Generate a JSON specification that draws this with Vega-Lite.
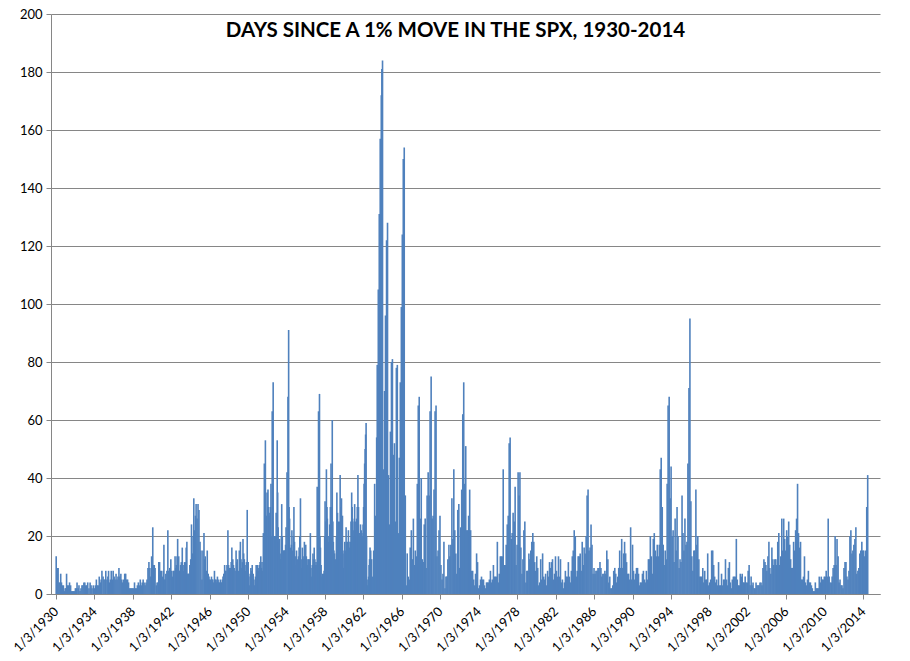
{
  "$schema": "https://vega.github.io/schema/vega-lite/v6.json",
  "width": 829,
  "height": 580,
  "autosize": {"type": "none"},
  "padding": {"left": 51, "top": 14, "right": 30, "bottom": 67},
  "background": "white",
  "title": {
    "text": "DAYS SINCE A 1% MOVE IN THE SPX, 1930-2014",
    "font": "Lato",
    "fontSize": 20.5,
    "fontWeight": "bold",
    "color": "#000000",
    "anchor": "middle",
    "frame": "group",
    "baseline": "alphabetic",
    "offset": -20,
    "dy": 29,
    "dx": -10
  },
  "data": {
    "values": [
      {"t":1930.02,"v":13},{"t":1930.12,"v":9},{"t":1930.22,"v":9},{"t":1930.32,"v":4},{"t":1930.42,"v":4},{"t":1930.49,"v":7},{"t":1930.57,"v":4},{"t":1930.67,"v":3},{"t":1930.77,"v":3},{"t":1930.87,"v":1},{"t":1930.95,"v":2},
      {"t":1931.03,"v":2},{"t":1931.1,"v":7},{"t":1931.2,"v":3},{"t":1931.3,"v":3},{"t":1931.41,"v":4},{"t":1931.52,"v":3},{"t":1931.62,"v":1},{"t":1931.72,"v":1},{"t":1931.82,"v":1},{"t":1931.92,"v":1},
      {"t":1932.02,"v":2},{"t":1932.12,"v":2},{"t":1932.19,"v":4},{"t":1932.3,"v":2},{"t":1932.39,"v":3},{"t":1932.5,"v":1},{"t":1932.6,"v":2},{"t":1932.7,"v":3},{"t":1932.8,"v":3},{"t":1932.9,"v":4},
      {"t":1933.0,"v":4},{"t":1933.1,"v":3},{"t":1933.2,"v":3},{"t":1933.3,"v":4},{"t":1933.43,"v":2},{"t":1933.55,"v":4},{"t":1933.65,"v":3},{"t":1933.75,"v":2},{"t":1933.88,"v":3},
      {"t":1934.0,"v":2},{"t":1934.1,"v":3},{"t":1934.2,"v":5},{"t":1934.3,"v":3},{"t":1934.4,"v":3},{"t":1934.5,"v":6},{"t":1934.6,"v":4},{"t":1934.7,"v":5},{"t":1934.78,"v":8},{"t":1934.9,"v":6},
      {"t":1935.0,"v":5},{"t":1935.1,"v":5},{"t":1935.18,"v":8},{"t":1935.3,"v":5},{"t":1935.4,"v":6},{"t":1935.47,"v":8},{"t":1935.57,"v":4},{"t":1935.66,"v":5},{"t":1935.75,"v":8},{"t":1935.85,"v":5},{"t":1935.95,"v":8},
      {"t":1936.05,"v":6},{"t":1936.15,"v":5},{"t":1936.25,"v":7},{"t":1936.35,"v":5},{"t":1936.45,"v":6},{"t":1936.55,"v":9},{"t":1936.65,"v":6},{"t":1936.75,"v":7},{"t":1936.85,"v":5},{"t":1936.95,"v":4},
      {"t":1937.05,"v":5},{"t":1937.15,"v":7},{"t":1937.25,"v":7},{"t":1937.35,"v":5},{"t":1937.45,"v":5},{"t":1937.55,"v":4},{"t":1937.65,"v":2},{"t":1937.75,"v":2},{"t":1937.85,"v":2},{"t":1937.95,"v":2},
      {"t":1938.05,"v":2},{"t":1938.17,"v":4},{"t":1938.27,"v":2},{"t":1938.37,"v":2},{"t":1938.47,"v":3},{"t":1938.57,"v":4},{"t":1938.67,"v":3},{"t":1938.77,"v":5},{"t":1938.87,"v":3},{"t":1938.97,"v":4},
      {"t":1939.07,"v":5},{"t":1939.17,"v":4},{"t":1939.27,"v":3},{"t":1939.37,"v":4},{"t":1939.47,"v":5},{"t":1939.57,"v":9},{"t":1939.67,"v":11},{"t":1939.77,"v":9},{"t":1939.87,"v":6},{"t":1939.95,"v":13},
      {"t":1940.07,"v":23},{"t":1940.15,"v":10},{"t":1940.23,"v":10},{"t":1940.31,"v":9},{"t":1940.44,"v":3},{"t":1940.52,"v":4},{"t":1940.61,"v":4},{"t":1940.7,"v":11},{"t":1940.78,"v":11},{"t":1940.86,"v":8},{"t":1940.95,"v":8},
      {"t":1941.06,"v":6},{"t":1941.16,"v":8},{"t":1941.23,"v":17},{"t":1941.3,"v":5},{"t":1941.37,"v":5},{"t":1941.43,"v":7},{"t":1941.54,"v":8},{"t":1941.64,"v":22},{"t":1941.74,"v":8},{"t":1941.84,"v":9},{"t":1941.95,"v":12},
      {"t":1942.05,"v":8},{"t":1942.15,"v":6},{"t":1942.22,"v":8},{"t":1942.29,"v":8},{"t":1942.39,"v":13},{"t":1942.46,"v":9},{"t":1942.53,"v":10},{"t":1942.6,"v":13},{"t":1942.66,"v":19},{"t":1942.77,"v":13},{"t":1942.84,"v":8},{"t":1942.9,"v":8},{"t":1942.97,"v":10},
      {"t":1943.04,"v":11},{"t":1943.14,"v":16},{"t":1943.24,"v":8},{"t":1943.31,"v":10},{"t":1943.38,"v":11},{"t":1943.48,"v":11},{"t":1943.55,"v":16},{"t":1943.62,"v":18},{"t":1943.7,"v":7},{"t":1943.76,"v":7},{"t":1943.85,"v":7},{"t":1943.93,"v":10},
      {"t":1944.02,"v":12},{"t":1944.1,"v":24},{"t":1944.2,"v":14},{"t":1944.27,"v":20},{"t":1944.34,"v":33},{"t":1944.44,"v":22},{"t":1944.51,"v":27},{"t":1944.58,"v":31},{"t":1944.68,"v":26},{"t":1944.78,"v":31},{"t":1944.88,"v":29},{"t":1944.99,"v":18},
      {"t":1945.09,"v":15},{"t":1945.19,"v":5},{"t":1945.29,"v":15},{"t":1945.4,"v":21},{"t":1945.47,"v":12},{"t":1945.53,"v":13},{"t":1945.63,"v":8},{"t":1945.74,"v":15},{"t":1945.84,"v":7},{"t":1945.92,"v":6},{"t":1945.98,"v":5},
      {"t":1946.05,"v":5},{"t":1946.11,"v":4},{"t":1946.18,"v":6},{"t":1946.25,"v":5},{"t":1946.32,"v":5},{"t":1946.39,"v":4},{"t":1946.49,"v":8},{"t":1946.57,"v":5},{"t":1946.66,"v":5},{"t":1946.73,"v":4},{"t":1946.8,"v":6},{"t":1946.87,"v":5},{"t":1946.93,"v":4},
      {"t":1947.0,"v":4},{"t":1947.1,"v":5},{"t":1947.17,"v":4},{"t":1947.24,"v":4},{"t":1947.31,"v":5},{"t":1947.38,"v":6},{"t":1947.46,"v":7},{"t":1947.55,"v":10},{"t":1947.62,"v":8},{"t":1947.68,"v":8},{"t":1947.79,"v":10},{"t":1947.89,"v":22},{"t":1947.96,"v":10},
      {"t":1948.03,"v":9},{"t":1948.1,"v":8},{"t":1948.16,"v":9},{"t":1948.23,"v":11},{"t":1948.3,"v":16},{"t":1948.4,"v":12},{"t":1948.47,"v":10},{"t":1948.54,"v":9},{"t":1948.64,"v":8},{"t":1948.74,"v":15},{"t":1948.81,"v":11},{"t":1948.88,"v":12},{"t":1948.98,"v":8},
      {"t":1949.08,"v":15},{"t":1949.19,"v":18},{"t":1949.25,"v":12},{"t":1949.32,"v":9},{"t":1949.39,"v":11},{"t":1949.46,"v":19},{"t":1949.53,"v":14},{"t":1949.6,"v":12},{"t":1949.67,"v":10},{"t":1949.73,"v":8},{"t":1949.82,"v":11},{"t":1949.9,"v":29},
      {"t":1950.0,"v":11},{"t":1950.07,"v":6},{"t":1950.14,"v":3},{"t":1950.21,"v":7},{"t":1950.28,"v":9},{"t":1950.35,"v":8},{"t":1950.42,"v":10},{"t":1950.52,"v":7},{"t":1950.6,"v":5},{"t":1950.69,"v":3},{"t":1950.76,"v":6},{"t":1950.83,"v":10},{"t":1950.9,"v":8},{"t":1950.97,"v":10},
      {"t":1951.03,"v":9},{"t":1951.1,"v":8},{"t":1951.17,"v":10},{"t":1951.24,"v":11},{"t":1951.31,"v":13},{"t":1951.38,"v":9},{"t":1951.44,"v":11},{"t":1951.51,"v":8},{"t":1951.58,"v":21},{"t":1951.68,"v":45},{"t":1951.79,"v":53},{"t":1951.89,"v":27},{"t":1951.96,"v":35},
      {"t":1952.06,"v":36},{"t":1952.11,"v":30},{"t":1952.16,"v":27},{"t":1952.26,"v":28},{"t":1952.31,"v":30},{"t":1952.37,"v":38},{"t":1952.44,"v":20},{"t":1952.5,"v":63},{"t":1952.6,"v":73},{"t":1952.71,"v":20},{"t":1952.81,"v":9},{"t":1952.86,"v":20},{"t":1952.91,"v":28},
      {"t":1953.02,"v":53},{"t":1953.07,"v":35},{"t":1953.12,"v":23},{"t":1953.18,"v":18},{"t":1953.25,"v":19},{"t":1953.32,"v":14},{"t":1953.39,"v":12},{"t":1953.45,"v":20},{"t":1953.49,"v":31},{"t":1953.55,"v":20},{"t":1953.6,"v":13},{"t":1953.66,"v":15},{"t":1953.73,"v":15},{"t":1953.78,"v":15},{"t":1953.84,"v":15},{"t":1953.89,"v":17},{"t":1953.94,"v":23},
      {"t":1954.04,"v":42},{"t":1954.14,"v":68},{"t":1954.21,"v":91},{"t":1954.26,"v":30},{"t":1954.31,"v":26},{"t":1954.38,"v":16},{"t":1954.45,"v":14},{"t":1954.5,"v":17},{"t":1954.55,"v":22},{"t":1954.61,"v":15},{"t":1954.66,"v":12},{"t":1954.71,"v":20},{"t":1954.76,"v":30},{"t":1954.82,"v":18},{"t":1954.89,"v":13},{"t":1954.96,"v":10},
      {"t":1955.03,"v":15},{"t":1955.1,"v":12},{"t":1955.17,"v":9},{"t":1955.24,"v":13},{"t":1955.3,"v":16},{"t":1955.37,"v":20},{"t":1955.44,"v":33},{"t":1955.51,"v":12},{"t":1955.58,"v":9},{"t":1955.64,"v":16},{"t":1955.71,"v":13},{"t":1955.78,"v":12},{"t":1955.85,"v":18},{"t":1955.92,"v":14},{"t":1955.99,"v":17},
      {"t":1956.05,"v":13},{"t":1956.12,"v":12},{"t":1956.19,"v":10},{"t":1956.26,"v":12},{"t":1956.31,"v":11},{"t":1956.36,"v":12},{"t":1956.42,"v":11},{"t":1956.47,"v":21},{"t":1956.53,"v":9},{"t":1956.6,"v":6},{"t":1956.67,"v":10},{"t":1956.74,"v":14},{"t":1956.8,"v":12},{"t":1956.87,"v":16},{"t":1956.94,"v":12},
      {"t":1957.01,"v":10},{"t":1957.06,"v":11},{"t":1957.11,"v":10},{"t":1957.18,"v":37},{"t":1957.25,"v":20},{"t":1957.32,"v":63},{"t":1957.42,"v":69},{"t":1957.47,"v":20},{"t":1957.52,"v":16},{"t":1957.59,"v":10},{"t":1957.66,"v":6},{"t":1957.73,"v":7},{"t":1957.8,"v":6},{"t":1957.85,"v":7},{"t":1957.9,"v":8},{"t":1957.96,"v":20},
      {"t":1958.0,"v":32},{"t":1958.07,"v":25},{"t":1958.14,"v":43},{"t":1958.2,"v":30},{"t":1958.24,"v":26},{"t":1958.29,"v":20},{"t":1958.34,"v":18},{"t":1958.41,"v":20},{"t":1958.48,"v":24},{"t":1958.55,"v":30},{"t":1958.62,"v":45},{"t":1958.68,"v":30},{"t":1958.75,"v":60},{"t":1958.81,"v":25},{"t":1958.86,"v":18},{"t":1958.92,"v":15},{"t":1958.99,"v":14},
      {"t":1959.06,"v":12},{"t":1959.13,"v":10},{"t":1959.18,"v":20},{"t":1959.23,"v":35},{"t":1959.3,"v":28},{"t":1959.37,"v":25},{"t":1959.42,"v":20},{"t":1959.47,"v":18},{"t":1959.52,"v":25},{"t":1959.57,"v":41},{"t":1959.64,"v":30},{"t":1959.71,"v":33},{"t":1959.76,"v":25},{"t":1959.81,"v":27},{"t":1959.86,"v":15},{"t":1959.91,"v":9},{"t":1959.98,"v":14},
      {"t":1960.05,"v":18},{"t":1960.12,"v":15},{"t":1960.19,"v":23},{"t":1960.24,"v":18},{"t":1960.29,"v":14},{"t":1960.36,"v":18},{"t":1960.43,"v":22},{"t":1960.48,"v":18},{"t":1960.53,"v":15},{"t":1960.58,"v":16},{"t":1960.63,"v":18},{"t":1960.7,"v":25},{"t":1960.77,"v":35},{"t":1960.82,"v":30},{"t":1960.87,"v":26},{"t":1960.92,"v":22},{"t":1960.97,"v":20},
      {"t":1961.03,"v":25},{"t":1961.08,"v":31},{"t":1961.13,"v":25},{"t":1961.18,"v":22},{"t":1961.23,"v":20},{"t":1961.28,"v":26},{"t":1961.35,"v":30},{"t":1961.42,"v":41},{"t":1961.48,"v":30},{"t":1961.55,"v":21},{"t":1961.62,"v":20},{"t":1961.69,"v":24},{"t":1961.76,"v":22},{"t":1961.83,"v":21},{"t":1961.9,"v":20},{"t":1961.96,"v":24},
      {"t":1962.01,"v":30},{"t":1962.06,"v":38},{"t":1962.12,"v":45},{"t":1962.17,"v":50},{"t":1962.22,"v":55},{"t":1962.27,"v":59},{"t":1962.32,"v":20},{"t":1962.37,"v":5},{"t":1962.43,"v":3},{"t":1962.48,"v":2},{"t":1962.53,"v":6},{"t":1962.58,"v":10},{"t":1962.63,"v":12},{"t":1962.68,"v":16},
      {"t":1962.75,"v":15},{"t":1962.85,"v":12},{"t":1962.95,"v":6},{"t":1963.06,"v":15},{"t":1963.16,"v":38},{"t":1963.26,"v":27},{"t":1963.37,"v":54},{"t":1963.43,"v":79},{"t":1963.54,"v":105},{"t":1963.64,"v":131},{"t":1963.74,"v":157},{"t":1963.85,"v":172},{"t":1963.91,"v":181},{"t":1963.98,"v":184},
      {"t":1964.09,"v":43},{"t":1964.19,"v":70},{"t":1964.29,"v":96},{"t":1964.4,"v":122},{"t":1964.5,"v":128},{"t":1964.6,"v":41},{"t":1964.7,"v":24},{"t":1964.8,"v":56},{"t":1964.91,"v":80},
      {"t":1965.01,"v":81},{"t":1965.11,"v":48},{"t":1965.22,"v":52},{"t":1965.32,"v":25},{"t":1965.42,"v":78},{"t":1965.52,"v":79},{"t":1965.63,"v":21},{"t":1965.73,"v":47},{"t":1965.83,"v":73},{"t":1965.94,"v":99},
      {"t":1966.04,"v":124},{"t":1966.14,"v":150},{"t":1966.24,"v":154},{"t":1966.35,"v":34},{"t":1966.45,"v":3},{"t":1966.55,"v":14},{"t":1966.66,"v":6},{"t":1966.76,"v":5},{"t":1966.86,"v":16},
      {"t":1966.98,"v":22},{"t":1967.08,"v":12},{"t":1967.19,"v":26},{"t":1967.29,"v":10},{"t":1967.39,"v":15},{"t":1967.49,"v":13},{"t":1967.6,"v":38},{"t":1967.7,"v":65},{"t":1967.8,"v":68},{"t":1967.91,"v":26},
      {"t":1968.01,"v":40},{"t":1968.11,"v":12},{"t":1968.21,"v":11},{"t":1968.32,"v":24},{"t":1968.42,"v":26},{"t":1968.52,"v":9},{"t":1968.62,"v":34},{"t":1968.73,"v":42},{"t":1968.83,"v":34},{"t":1968.93,"v":63},
      {"t":1969.04,"v":75},{"t":1969.14,"v":26},{"t":1969.24,"v":27},{"t":1969.34,"v":36},{"t":1969.45,"v":63},{"t":1969.55,"v":65},{"t":1969.65,"v":13},{"t":1969.76,"v":15},{"t":1969.86,"v":22},{"t":1969.96,"v":27},
      {"t":1970.06,"v":10},{"t":1970.17,"v":5},{"t":1970.27,"v":7},{"t":1970.37,"v":18},{"t":1970.48,"v":2},{"t":1970.58,"v":6},{"t":1970.68,"v":6},{"t":1970.78,"v":12},{"t":1970.89,"v":17},{"t":1970.99,"v":13},
      {"t":1971.09,"v":17},{"t":1971.2,"v":33},{"t":1971.3,"v":19},{"t":1971.4,"v":43},{"t":1971.5,"v":22},{"t":1971.61,"v":14},{"t":1971.71,"v":7},{"t":1971.81,"v":29},{"t":1971.92,"v":31},
      {"t":1972.02,"v":9},{"t":1972.12,"v":23},{"t":1972.22,"v":36},{"t":1972.33,"v":62},{"t":1972.43,"v":73},{"t":1972.53,"v":38},{"t":1972.64,"v":51},{"t":1972.74,"v":22},{"t":1972.84,"v":22},{"t":1972.94,"v":27},
      {"t":1973.05,"v":36},{"t":1973.15,"v":22},{"t":1973.25,"v":8},{"t":1973.36,"v":8},{"t":1973.46,"v":5},{"t":1973.56,"v":3},{"t":1973.66,"v":7},{"t":1973.77,"v":14},{"t":1973.87,"v":11},{"t":1973.97,"v":2},
      {"t":1974.08,"v":3},{"t":1974.18,"v":5},{"t":1974.28,"v":6},{"t":1974.38,"v":5},{"t":1974.49,"v":5},{"t":1974.59,"v":3},{"t":1974.69,"v":2},{"t":1974.8,"v":4},{"t":1974.9,"v":4},
      {"t":1975.0,"v":4},{"t":1975.1,"v":5},{"t":1975.21,"v":8},{"t":1975.31,"v":4},{"t":1975.41,"v":5},{"t":1975.52,"v":10},{"t":1975.62,"v":6},{"t":1975.72,"v":6},{"t":1975.82,"v":6},{"t":1975.93,"v":18},
      {"t":1976.03,"v":4},{"t":1976.13,"v":7},{"t":1976.24,"v":13},{"t":1976.34,"v":13},{"t":1976.44,"v":13},{"t":1976.54,"v":43},{"t":1976.65,"v":10},{"t":1976.75,"v":10},{"t":1976.85,"v":17},{"t":1976.96,"v":24},
      {"t":1977.06,"v":27},{"t":1977.16,"v":52},{"t":1977.26,"v":54},{"t":1977.37,"v":19},{"t":1977.47,"v":21},{"t":1977.57,"v":28},{"t":1977.68,"v":25},{"t":1977.78,"v":37},{"t":1977.88,"v":10},{"t":1977.98,"v":17},
      {"t":1978.09,"v":42},{"t":1978.19,"v":34},{"t":1978.28,"v":42},{"t":1978.38,"v":16},{"t":1978.49,"v":7},{"t":1978.59,"v":12},{"t":1978.69,"v":22},{"t":1978.79,"v":25},{"t":1978.9,"v":4},
      {"t":1979.0,"v":8},{"t":1979.1,"v":8},{"t":1979.21,"v":14},{"t":1979.31,"v":12},{"t":1979.41,"v":15},{"t":1979.51,"v":18},{"t":1979.62,"v":21},{"t":1979.72,"v":18},{"t":1979.82,"v":11},{"t":1979.92,"v":8},
      {"t":1980.03,"v":13},{"t":1980.13,"v":9},{"t":1980.23,"v":3},{"t":1980.34,"v":4},{"t":1980.44,"v":12},{"t":1980.54,"v":5},{"t":1980.64,"v":14},{"t":1980.75,"v":6},{"t":1980.85,"v":5},{"t":1980.95,"v":7},
      {"t":1981.06,"v":3},{"t":1981.16,"v":8},{"t":1981.26,"v":6},{"t":1981.36,"v":11},{"t":1981.47,"v":9},{"t":1981.57,"v":11},{"t":1981.67,"v":12},{"t":1981.78,"v":5},{"t":1981.88,"v":7},{"t":1981.98,"v":13},
      {"t":1982.08,"v":8},{"t":1982.19,"v":6},{"t":1982.29,"v":13},{"t":1982.39,"v":6},{"t":1982.5,"v":12},{"t":1982.6,"v":4},{"t":1982.7,"v":5},{"t":1982.8,"v":2},{"t":1982.91,"v":4},
      {"t":1983.01,"v":8},{"t":1983.11,"v":6},{"t":1983.21,"v":6},{"t":1983.32,"v":11},{"t":1983.42,"v":6},{"t":1983.52,"v":4},{"t":1983.63,"v":8},{"t":1983.73,"v":13},{"t":1983.83,"v":15},{"t":1983.93,"v":22},
      {"t":1984.04,"v":20},{"t":1984.14,"v":6},{"t":1984.24,"v":8},{"t":1984.34,"v":13},{"t":1984.45,"v":13},{"t":1984.55,"v":14},{"t":1984.65,"v":8},{"t":1984.76,"v":18},{"t":1984.86,"v":10},{"t":1984.96,"v":16},
      {"t":1985.06,"v":14},{"t":1985.17,"v":20},{"t":1985.27,"v":34},{"t":1985.37,"v":36},{"t":1985.47,"v":15},{"t":1985.58,"v":16},{"t":1985.68,"v":24},{"t":1985.78,"v":17},{"t":1985.89,"v":7},{"t":1985.99,"v":9},
      {"t":1986.09,"v":7},{"t":1986.19,"v":8},{"t":1986.3,"v":8},{"t":1986.4,"v":9},{"t":1986.5,"v":9},{"t":1986.61,"v":11},{"t":1986.71,"v":9},{"t":1986.81,"v":6},{"t":1986.91,"v":7},
      {"t":1987.02,"v":7},{"t":1987.12,"v":8},{"t":1987.22,"v":7},{"t":1987.32,"v":15},{"t":1987.43,"v":12},{"t":1987.53,"v":4},{"t":1987.63,"v":6},{"t":1987.74,"v":2},{"t":1987.84,"v":2},{"t":1987.94,"v":3},
      {"t":1988.04,"v":8},{"t":1988.15,"v":9},{"t":1988.25,"v":7},{"t":1988.35,"v":4},{"t":1988.46,"v":6},{"t":1988.56,"v":9},{"t":1988.66,"v":15},{"t":1988.76,"v":9},{"t":1988.87,"v":19},{"t":1988.97,"v":9},
      {"t":1989.07,"v":14},{"t":1989.17,"v":18},{"t":1989.28,"v":14},{"t":1989.38,"v":11},{"t":1989.48,"v":7},
      {"t":1989.59,"v":7},{"t":1989.69,"v":5},{"t":1989.8,"v":23},{"t":1989.9,"v":5},
      {"t":1990.0,"v":17},{"t":1990.1,"v":8},{"t":1990.21,"v":5},{"t":1990.31,"v":7},{"t":1990.41,"v":9},{"t":1990.52,"v":9},{"t":1990.62,"v":7},{"t":1990.72,"v":3},{"t":1990.82,"v":4},{"t":1990.93,"v":4},
      {"t":1991.03,"v":7},{"t":1991.13,"v":8},{"t":1991.24,"v":5},{"t":1991.34,"v":4},{"t":1991.44,"v":8},{"t":1991.54,"v":5},{"t":1991.65,"v":12},{"t":1991.75,"v":12},{"t":1991.85,"v":20},{"t":1991.96,"v":13},
      {"t":1992.06,"v":7},{"t":1992.16,"v":19},{"t":1992.26,"v":21},{"t":1992.37,"v":15},{"t":1992.47,"v":13},{"t":1992.57,"v":17},{"t":1992.68,"v":13},{"t":1992.78,"v":17},{"t":1992.88,"v":43},{"t":1992.98,"v":47},
      {"t":1993.09,"v":30},{"t":1993.19,"v":17},{"t":1993.29,"v":10},{"t":1993.4,"v":15},{"t":1993.5,"v":12},{"t":1993.6,"v":38},{"t":1993.7,"v":65},{"t":1993.81,"v":68},{"t":1993.91,"v":33},
      {"t":1994.01,"v":44},{"t":1994.12,"v":20},{"t":1994.22,"v":22},{"t":1994.32,"v":11},{"t":1994.43,"v":26},{"t":1994.53,"v":15},{"t":1994.63,"v":30},{"t":1994.73,"v":20},{"t":1994.84,"v":9},{"t":1994.94,"v":12},
      {"t":1995.04,"v":11},{"t":1995.15,"v":34},{"t":1995.25,"v":21},{"t":1995.35,"v":15},{"t":1995.45,"v":26},{"t":1995.56,"v":17},{"t":1995.66,"v":18},{"t":1995.76,"v":45},{"t":1995.87,"v":71},{"t":1995.97,"v":95},
      {"t":1996.07,"v":32},{"t":1996.17,"v":13},{"t":1996.28,"v":8},{"t":1996.38,"v":15},{"t":1996.48,"v":15},{"t":1996.59,"v":36},{"t":1996.69,"v":17},{"t":1996.79,"v":20},{"t":1996.9,"v":12},
      {"t":1997.0,"v":6},{"t":1997.1,"v":6},{"t":1997.2,"v":6},{"t":1997.31,"v":9},{"t":1997.41,"v":4},{"t":1997.51,"v":8},{"t":1997.62,"v":5},{"t":1997.72,"v":5},{"t":1997.82,"v":14},{"t":1997.92,"v":3},
      {"t":1998.03,"v":4},{"t":1998.13,"v":5},{"t":1998.23,"v":15},{"t":1998.34,"v":15},{"t":1998.44,"v":10},{"t":1998.54,"v":6},{"t":1998.64,"v":4},{"t":1998.75,"v":5},{"t":1998.85,"v":3},{"t":1998.95,"v":11},
      {"t":1999.06,"v":3},{"t":1999.16,"v":3},{"t":1999.26,"v":7},{"t":1999.36,"v":3},{"t":1999.47,"v":5},{"t":1999.57,"v":5},{"t":1999.67,"v":12},{"t":1999.78,"v":5},
      {"t":1999.87,"v":3},{"t":1999.97,"v":9},{"t":2000.08,"v":11},{"t":2000.18,"v":4},{"t":2000.28,"v":2},{"t":2000.38,"v":5},{"t":2000.49,"v":6},{"t":2000.59,"v":6},{"t":2000.69,"v":6},{"t":2000.8,"v":19},{"t":2000.9,"v":5},
      {"t":2001.0,"v":3},{"t":2001.1,"v":3},{"t":2001.21,"v":7},{"t":2001.31,"v":6},{"t":2001.41,"v":7},{"t":2001.52,"v":4},{"t":2001.62,"v":4},{"t":2001.72,"v":6},{"t":2001.82,"v":4},{"t":2001.93,"v":4},
      {"t":2002.03,"v":8},{"t":2002.13,"v":10},{"t":2002.23,"v":3},{"t":2002.34,"v":6},{"t":2002.44,"v":3},{"t":2002.54,"v":4},{"t":2002.65,"v":2},{"t":2002.75,"v":2},{"t":2002.85,"v":4},{"t":2002.95,"v":3},
      {"t":2003.06,"v":3},{"t":2003.16,"v":3},{"t":2003.26,"v":4},{"t":2003.37,"v":4},{"t":2003.47,"v":3},{"t":2003.57,"v":9},{"t":2003.67,"v":12},{"t":2003.78,"v":11},{"t":2003.88,"v":10},{"t":2003.98,"v":8},
      {"t":2004.09,"v":13},{"t":2004.19,"v":18},{"t":2004.29,"v":9},{"t":2004.39,"v":7},{"t":2004.5,"v":16},{"t":2004.6,"v":12},{"t":2004.7,"v":10},{"t":2004.81,"v":12},{"t":2004.91,"v":12},
      {"t":2005.01,"v":10},{"t":2005.11,"v":18},{"t":2005.22,"v":21},{"t":2005.32,"v":10},{"t":2005.42,"v":13},{"t":2005.53,"v":26},{"t":2005.63,"v":15},{"t":2005.73,"v":26},{"t":2005.83,"v":19},{"t":2005.94,"v":15},
      {"t":2006.04,"v":22},{"t":2006.14,"v":20},{"t":2006.25,"v":25},{"t":2006.35,"v":17},{"t":2006.45,"v":12},{"t":2006.55,"v":9},{"t":2006.66,"v":9},{"t":2006.76,"v":18},{"t":2006.86,"v":15},{"t":2006.97,"v":22},
      {"t":2007.07,"v":26},{"t":2007.17,"v":38},{"t":2007.27,"v":21},{"t":2007.38,"v":16},{"t":2007.48,"v":18},{"t":2007.58,"v":5},{"t":2007.68,"v":5},{"t":2007.79,"v":6},{"t":2007.89,"v":13},{"t":2007.99,"v":4},
      {"t":2008.1,"v":3},{"t":2008.2,"v":5},{"t":2008.3,"v":8},{"t":2008.4,"v":4},{"t":2008.51,"v":4},{"t":2008.61,"v":3},{"t":2008.71,"v":2},{"t":2008.82,"v":1},{"t":2008.92,"v":1},
      {"t":2009.02,"v":4},{"t":2009.12,"v":2},{"t":2009.23,"v":2},{"t":2009.33,"v":2},{"t":2009.43,"v":6},{"t":2009.54,"v":4},{"t":2009.64,"v":6},{"t":2009.74,"v":5},{"t":2009.84,"v":5},{"t":2009.95,"v":6},
      {"t":2010.05,"v":6},{"t":2010.15,"v":8},{"t":2010.26,"v":6},{"t":2010.36,"v":26},{"t":2010.46,"v":6},{"t":2010.56,"v":4},{"t":2010.67,"v":4},{"t":2010.77,"v":6},{"t":2010.87,"v":9},{"t":2010.98,"v":10},
      {"t":2011.08,"v":20},{"t":2011.18,"v":10},{"t":2011.28,"v":19},{"t":2011.39,"v":13},{"t":2011.49,"v":4},{"t":2011.59,"v":5},{"t":2011.7,"v":3},{"t":2011.8,"v":3},{"t":2011.9,"v":2},
      {"t":2012.0,"v":9},{"t":2012.11,"v":11},{"t":2012.21,"v":11},{"t":2012.31,"v":6},{"t":2012.42,"v":5},{"t":2012.52,"v":8},{"t":2012.62,"v":20},{"t":2012.72,"v":22},{"t":2012.83,"v":14},{"t":2012.93,"v":15},
      {"t":2013.03,"v":17},{"t":2013.14,"v":19},{"t":2013.24,"v":23},{"t":2013.34,"v":7},{"t":2013.45,"v":8},{"t":2013.55,"v":9},{"t":2013.65,"v":14},{"t":2013.75,"v":15},{"t":2013.86,"v":18},{"t":2013.96,"v":15},
      {"t":2014.06,"v":15},{"t":2014.17,"v":13},{"t":2014.27,"v":15},{"t":2014.37,"v":30},{"t":2014.47,"v":41}
    ]
  },
  "mark": {"type": "bar", "color": "#4F81BD", "width": 1.6},
  "encoding": {
    "x": {
      "field": "t",
      "type": "quantitative",
      "scale": {"domain": [1930, 2015.23], "nice": false, "zero": false},
      "axis": {
        "title": null,
        "values": [1930, 1934, 1938, 1942, 1946, 1950, 1954, 1958, 1962, 1966, 1970, 1974, 1978, 1982, 1986, 1990, 1994, 1998, 2002, 2006, 2010, 2014],
        "labelExpr": "'1/3/' + datum.value",
        "labelAngle": -45,
        "labelAlign": "right",
        "labelBaseline": "middle",
        "labelPadding": 10,
        "grid": false,
        "ticks": true,
        "tickSize": 5,
        "tickColor": "#868686",
        "domainColor": "#868686",
        "labelFont": "Lato",
        "labelFontSize": 13,
        "labelColor": "#000000",
        "labelOverlap": false
      }
    },
    "y": {
      "field": "v",
      "type": "quantitative",
      "scale": {"domain": [0, 200], "nice": false},
      "axis": {
        "title": null,
        "values": [0, 20, 40, 60, 80, 100, 120, 140, 160, 180, 200],
        "grid": true,
        "gridColor": "#868686",
        "gridOpacity": 1,
        "tickSize": 5,
        "tickColor": "#868686",
        "domainColor": "#868686",
        "labelFont": "Lato",
        "labelFontSize": 13,
        "labelColor": "#000000",
        "labelPadding": 4
      }
    }
  },
  "config": {
    "view": {"stroke": null}
  }
}
